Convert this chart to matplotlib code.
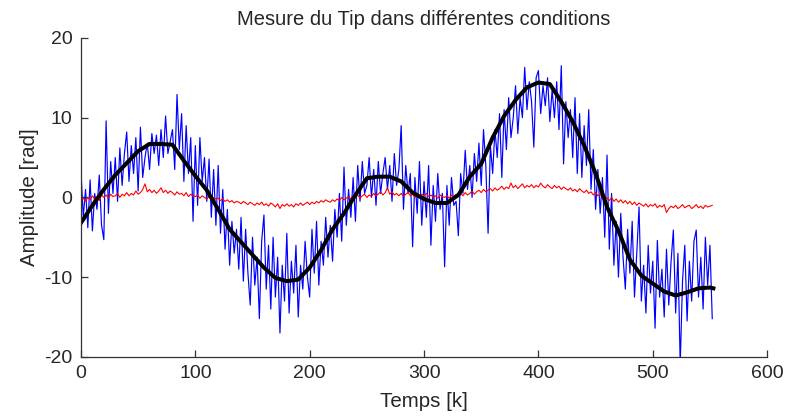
import numpy as np
import matplotlib
matplotlib.use("Agg")
import matplotlib.pyplot as plt

plt.rcParams['font.family'] = ['Liberation Sans', 'DejaVu Sans']
plt.rcParams['axes.unicode_minus'] = False

# mesure brute (bleu), un point tous les 2 echantillons
t_brut = np.arange(0, 554, 2)
brut = [
    3.4, -2.5, 1.0, -3.8, 2.2, -4.2, 0.5, -1.5, 2.8, -3.5,
    -5.3, 9.6, -2.0, 4.5, 0.5, 5.0, -0.5, 6.2, 1.5, 5.5,
    8.2, 2.0, 6.5, 3.0, 7.5, 0.8, 8.8, 2.5, 5.0, 6.8,
    3.5, 8.0, 5.5, 7.8, 4.0, 8.5, 5.0, 10.2, 5.5, 7.0,
    8.5, 3.5, 12.9, 6.0, 10.5, 2.0, 9.0, 3.0, 7.5, -3.0,
    6.5, -1.0, 7.5, 2.0, 5.0, -0.5, 4.8, -2.5, 3.5, -3.5,
    4.0, -4.5, 1.0, -6.5, -1.5, -8.5, -3.0, -7.0, -4.0, -9.0,
    -2.5, -10.5, -4.0, -9.5, -13.5, -5.0, -11.0, -7.5, -15.2, -5.5,
    -2.2, -11.5, -6.0, -14.0, -5.0, -12.5, -7.5, -17.0, -8.5, -13.0,
    -4.5, -14.5, -8.0, -12.0, -6.0, -15.0, -8.5, -11.5, -5.5, -10.0,
    -12.5, -4.0, -9.5, -3.0, -11.0, -5.5, -8.5, -2.5, -7.5, -3.5,
    -8.0, -1.5, -5.0, 0.5, -5.5, 3.8, -3.5, 1.0, -2.5, 2.5,
    -3.0, 4.0, -0.5, 4.5, 0.5, 1.5, 5.0, 0.0, 3.5, -1.0,
    4.5, 0.5, 3.0, 5.0, 1.0, 4.0, -0.5, 5.5, 1.5, 3.5,
    9.0, -1.5, 4.0, 0.5, 3.0, -6.2, 2.5, -2.0, 4.5, -3.5,
    2.0, -2.5, 4.0, -6.0, 1.5, -3.0, 3.0, -1.5, 0.5, -8.7,
    1.5, -3.5, 2.5, -1.0, -0.5, -4.8, 3.0, 0.5, 5.9, 1.0,
    4.0, 0.0, 5.5, 2.0, 6.8, 1.5, 8.5, 4.0, -4.5, 6.5,
    3.0, 8.5, 5.0, 10.5, 2.5, 11.0, 6.0, 12.5, 7.5, 10.0,
    14.0, 8.0, 12.5, 10.0, 16.3, 11.0, 14.5, 12.0, 6.3, 15.0,
    15.9, 10.5, 14.0, 11.5, 15.0, 9.5, 13.5, 10.0, 14.5, 8.5,
    16.5, 4.2, 12.0, 7.5, 11.0, 5.0, 12.5, 3.0, 10.5, 2.5,
    9.0, 4.0, 11.0, 1.0, 6.0, -1.5, 3.5, -2.0, 2.5, -5.0,
    5.3, -6.5, 0.5, -8.5, -3.0, -10.0, -2.0, -7.5, -11.5, -4.0,
    -9.5, -3.0, -12.5, -7.0, -1.2, -13.0, -8.5, -14.5, -6.0, -12.0,
    -8.0, -16.4, -5.4, -12.5, -9.0, -15.0, -6.5, -13.5, -8.0, -4.1,
    -14.5, -7.0, -21.0, -10.5, -6.0, -15.5, -8.0, -13.0, -5.5, -4.1,
    -12.5, -7.5, -14.0, -5.0, -11.0, -6.0, -15.2,
]

# autre condition (rouge)
t_rouge = np.arange(0, 554, 2)
rouge = [
    -0.4, -0.1, -0.5, 0.0, -0.3, 0.2, -0.2, 0.1, -0.4, 0.3,
    0.0, 0.3, -0.1, 0.4, 0.1, 0.2, 0.5, 0.0, 0.4, 0.2,
    0.6, 0.2, 0.5, 0.3, 0.8, 0.4, 0.6, 1.0, 1.7, 0.7,
    1.0, 0.6, 0.9, 0.5, 0.8, 1.2, 0.6, 0.9, 0.5, 0.8,
    0.6, 0.3, 0.7, 0.4, 0.5, 0.2, 0.6, 0.1, 0.4, 0.2,
    0.1, 0.3, -0.1, 0.2, 0.0, -0.2, 0.1, -0.3, 0.0, -0.2,
    -0.1, -0.4, -0.2, -0.5, -0.3, -0.6, -0.4, -0.7, -0.5, -0.6,
    -0.8, -0.5, -0.7, -0.9, -0.6, -0.8, -1.0, -0.7, -0.9, -0.6,
    -1.0, -0.8, -1.1, -0.7, -0.9, -1.2, -0.8, -1.4, -0.9, -1.1,
    -0.8, -1.1, -0.9, -1.2, -0.8, -1.0, -0.7, -1.0, -0.8, -0.6,
    -0.9, -0.6, -0.8, -0.5, -0.7, -0.4, -0.6, -0.3, -0.5, -0.6,
    -0.3, -0.5, -0.2, -0.4, 0.0, -0.3, -0.1, 0.1, -0.2, 0.2,
    0.0, 0.3, -0.1, 0.2, 0.4, 0.0, 0.3, 0.1, 0.5, 0.2,
    0.4, 0.7, 0.3, 0.6, 1.2, 0.4, 0.7, 0.3, 0.5, 0.2,
    0.5, 0.1, 0.4, 0.6, 0.2, 0.4, 0.0, 0.3, 0.1, 0.4,
    0.2, 0.5, 0.1, 0.3, 0.0, 0.2, -0.1, 0.3, 0.1, 0.0,
    0.2, -0.1, 0.3, 0.0, 0.4, 0.1, 0.5, 0.2, 0.6, 0.3,
    0.5, 0.8, 0.4, 0.7, 0.9, 0.6, 1.0, 0.7, 0.9, 1.1,
    0.8, 1.2, 0.9, 1.1, 1.4, 1.0, 1.3, 1.1, 1.8, 1.2,
    1.5, 1.1, 1.4, 1.7, 1.2, 1.5, 1.3, 1.6, 1.2, 1.5,
    1.3, 1.8, 1.4, 1.2, 1.6, 1.3, 1.1, 1.5, 1.2, 1.4,
    1.0, 1.3, 1.1, 0.9, 1.2, 0.8, 1.0, 0.7, 1.1, 0.8,
    0.6, 0.9, 0.5, 0.7, 0.3, 0.6, 0.2, 0.4, 0.0, 0.2,
    -0.1, -0.4, 0.0, -0.5, -0.2, -0.6, -0.3, -0.7, -0.4, -0.8,
    -0.5, -0.9, -0.6, -1.0, -0.7, -0.9, -1.1, -0.8, -1.2, -0.9,
    -1.1, -0.8, -1.3, -1.0, -1.2, -0.9, -1.9, -1.4, -1.1, -1.3,
    -1.0, -1.4, -1.2, -0.9, -1.3, -1.1, -1.0, -1.4, -1.2, -0.9,
    -1.3, -1.1, -1.4, -1.0, -1.2, -1.1, -1.0,
]

# signal filtre (noir)
t_filtre = [0, 10, 20, 30, 40, 50, 60, 70, 80, 90, 100, 110, 120, 130, 140,
            150, 160, 170, 180, 190, 200, 210, 220, 230, 240, 250, 260, 270,
            280, 290, 300, 310, 320, 330, 340, 350, 360, 370, 380, 390, 400,
            410, 420, 430, 440, 450, 460, 470, 480, 490, 500, 510, 520, 530,
            540, 550, 553]
filtre = [-3.2, -1.0, 1.0, 2.8, 4.3, 5.8, 6.7, 6.7, 6.6, 4.6, 2.7, 0.9, -1.5,
          -4.0, -5.6, -7.2, -8.8, -10.1, -10.5, -10.3, -8.8, -6.6, -4.0, -2.0,
          0.3, 2.4, 2.6, 2.6, 2.0, 0.6, -0.2, -0.7, -0.7, 0.3, 2.6, 4.2, 7.5,
          10.2, 12.2, 13.8, 14.4, 14.2, 12.0, 9.5, 6.5, 3.0, -1.2, -4.2, -7.8,
          -9.8, -10.8, -11.8, -12.3, -11.9, -11.4, -11.3, -11.4]

fig = plt.figure(figsize=(7.86, 4.16), dpi=100)
ax = fig.add_axes([0.103, 0.142, 0.873, 0.767])

ax.plot(t_brut, brut, color='#0000ff', lw=0.85)
ax.plot(t_rouge, rouge, color='#ff0000', lw=0.8)
ax.plot(t_filtre, filtre, color='black', lw=2.9)

ax.set_xlim(0, 600)
ax.set_ylim(-20, 20)
ax.set_xticks([0, 100, 200, 300, 400, 500, 600])
ax.set_yticks([-20, -10, 0, 10, 20])

ax.spines['top'].set_visible(False)
ax.spines['right'].set_visible(False)
for s in ['left', 'bottom']:
    ax.spines[s].set_color('#333333')
    ax.spines[s].set_linewidth(0.9)
ax.tick_params(direction='in', length=5, width=0.9, colors='#333333',
               labelcolor='#262626', labelsize=14, pad=6)

ax.set_title('Mesure du Tip dans différentes conditions', fontsize=14.5,
             color='#262626', pad=9)
ax.set_xlabel('Temps [k]', fontsize=14.8, color='#262626', labelpad=7)
ax.set_ylabel('Amplitude [rad]', fontsize=14.8, color='#262626', labelpad=4)

fig.savefig('out.png', dpi=100)
